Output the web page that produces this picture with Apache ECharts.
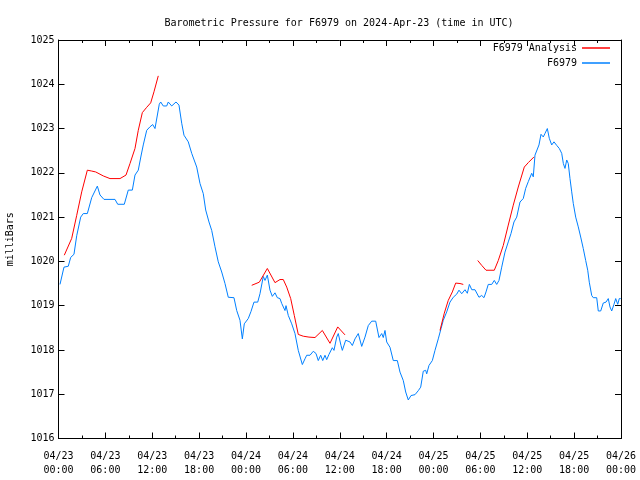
<!DOCTYPE html>
<html><head><meta charset="utf-8">
<script src="https://cdn.jsdelivr.net/npm/echarts@6.0.0/dist/echarts.min.js"></script>
<style>html,body{margin:0;padding:0;background:#fff}#c{width:640px;height:480px}</style>
</head><body><div id="c"></div>
<script>
const tickDates = ['04/23','04/23','04/23','04/23','04/24','04/24','04/24','04/24','04/25','04/25','04/25','04/25','04/26'];
const tickTimes = ['00:00','06:00','12:00','18:00','00:00','06:00','12:00','18:00','00:00','06:00','12:00','18:00','00:00'];
const yTicks = [1016,1017,1018,1019,1020,1021,1022,1023,1024,1025];

// F6979 observations: hours since 2024-04-23 00:00 UTC
const obsHours = [0.19,0.70,1.25,1.56,1.98,2.33,2.84,3.17,3.69,4.25,4.97,5.31,5.82,7.23,7.58,8.42,8.93,9.45,9.79,10.21,10.56,10.85,11.29,11.71,12.06,12.35,12.90,13.08,13.41,13.85,14.05,14.49,15.04,15.42,15.77,16.06,16.61,17.05,17.69,18.11,18.53,18.84,18.97,19.26,19.61,20.03,20.45,20.89,21.31,21.73,22.46,22.81,23.23,23.53,23.78,24.29,24.64,25.02,25.50,25.79,26.21,26.43,26.73,27.07,27.37,27.71,28.01,28.35,28.57,28.99,29.12,29.41,29.85,30.27,30.69,31.21,31.55,31.77,32.19,32.61,32.96,33.25,33.56,33.82,34.11,34.33,34.62,35.05,35.26,35.61,35.81,36.16,36.33,36.76,37.31,37.61,37.95,38.37,38.81,39.23,39.65,40.09,40.60,41.02,41.37,41.57,41.79,42.01,42.43,42.85,43.37,43.71,44.13,44.44,44.77,45.12,45.63,46.05,46.36,46.69,47.00,47.13,47.42,47.85,48.19,48.61,48.96,49.25,49.69,50.11,50.53,50.97,51.26,51.61,52.03,52.33,52.59,52.90,53.31,53.82,54.17,54.46,54.72,55.01,55.45,55.78,56.09,56.38,56.73,57.15,57.57,57.92,58.30,58.65,59.07,59.49,59.80,60.13,60.57,60.77,60.99,61.21,61.50,61.76,62.05,62.27,62.57,62.82,63.13,63.42,63.77,64.10,64.41,64.62,64.83,65.05,65.25,65.47,65.69,65.89,66.20,66.53,66.84,67.17,67.48,67.74,67.94,68.25,68.45,68.89,69.09,69.40,69.73,70.08,70.37,70.59,70.81,71.10,71.32,71.58,71.78,71.96];
const obsValues = [1019.48,1019.87,1019.89,1020.09,1020.16,1020.58,1021.00,1021.08,1021.08,1021.44,1021.70,1021.50,1021.40,1021.40,1021.29,1021.29,1021.61,1021.61,1021.95,1022.06,1022.38,1022.63,1022.96,1023.04,1023.09,1023.00,1023.55,1023.60,1023.51,1023.51,1023.60,1023.51,1023.60,1023.53,1023.12,1022.85,1022.70,1022.44,1022.13,1021.76,1021.53,1021.16,1021.19,1020.89,1020.70,1020.33,1019.99,1019.76,1019.50,1019.19,1019.18,1018.89,1018.67,1018.25,1018.59,1018.71,1018.87,1019.08,1019.08,1019.27,1019.66,1019.57,1019.69,1019.35,1019.21,1019.29,1019.18,1019.16,1019.05,1018.89,1019.00,1018.78,1018.59,1018.37,1017.99,1017.67,1017.80,1017.88,1017.88,1017.97,1017.92,1017.76,1017.88,1017.76,1017.88,1017.78,1017.90,1018.05,1017.99,1018.29,1018.37,1018.10,1017.99,1018.22,1018.18,1018.10,1018.25,1018.37,1018.08,1018.29,1018.55,1018.65,1018.65,1018.28,1018.37,1018.28,1018.44,1018.18,1018.06,1017.76,1017.76,1017.50,1017.31,1017.05,1016.87,1016.97,1016.99,1017.08,1017.16,1017.52,1017.54,1017.46,1017.65,1017.76,1017.99,1018.25,1018.48,1018.67,1018.86,1019.08,1019.19,1019.26,1019.35,1019.27,1019.36,1019.28,1019.48,1019.36,1019.36,1019.19,1019.23,1019.18,1019.31,1019.48,1019.48,1019.57,1019.48,1019.57,1019.87,1020.21,1020.44,1020.63,1020.89,1021.00,1021.34,1021.42,1021.65,1021.80,1021.99,1021.91,1022.40,1022.44,1022.63,1022.87,1022.81,1022.89,1023.00,1022.78,1022.63,1022.70,1022.62,1022.55,1022.44,1022.21,1022.10,1022.29,1022.21,1021.87,1021.57,1021.31,1021.00,1020.78,1020.55,1020.29,1020.02,1019.80,1019.53,1019.23,1019.18,1019.18,1018.88,1018.88,1019.06,1019.08,1019.16,1018.97,1018.88,1019.03,1019.16,1019.03,1019.16,1019.16];

// F6979 Analysis: four separate segments
const anaHours1 = [0.74,1.69,2.33,2.97,3.69,4.25,4.76,5.73,6.59,7.87,8.64,9.15,9.79,10.21,10.73,11.29,11.80,12.22,12.77];
const anaValues1 = [1020.14,1020.52,1021.04,1021.57,1022.06,1022.04,1022.02,1021.93,1021.87,1021.87,1021.95,1022.21,1022.55,1022.96,1023.36,1023.48,1023.58,1023.83,1024.19];
const anaHours2 = [24.73,25.70,26.73,27.71,28.35,28.77,29.21,29.72,30.18,30.69,31.33,32.06,32.83,33.77,34.75,35.74,36.67];
const anaValues2 = [1019.46,1019.53,1019.84,1019.52,1019.59,1019.59,1019.42,1019.16,1018.78,1018.35,1018.31,1018.29,1018.28,1018.44,1018.15,1018.52,1018.34];
const anaHours3 = [48.83,49.38,49.89,50.41,50.84,51.39,51.81];
const anaValues3 = [1018.44,1018.83,1019.12,1019.31,1019.51,1019.50,1019.48];
const anaHours4 = [53.66,54.17,54.72,55.78,56.29,56.93,57.57,58.21,58.85,59.62,60.13,60.86];
const anaValues4 = [1020.02,1019.91,1019.80,1019.80,1020.02,1020.36,1020.82,1021.27,1021.68,1022.13,1022.23,1022.36];

const pair = (hs, vs) => hs.map((h, i) => [h, vs[i]]);
const obsData = pair(obsHours, obsValues);
const anaSegments = [[anaHours1, anaValues1],[anaHours2, anaValues2],[anaHours3, anaValues3],[anaHours4, anaValues4]];
const anaData = [];
anaSegments.forEach((s, k) => {
  if (k > 0) anaData.push([s[0][0] - 0.01, null]);
  pair(s[0], s[1]).forEach(p => anaData.push(p));
});

const FONT = 'DejaVu Sans Mono';
const black = '#000';
function xAxisDef(pos, labels) {
  return {
    type: 'value', min: 0, max: 72, interval: 6, position: pos,
    axisLine: { show: true, onZero: false, lineStyle: { color: black, width: 1 } },
    axisTick: { show: true, inside: true, length: 6, lineStyle: { color: black } },
    minorTick: { show: true, splitNumber: 2, length: 3, lineStyle: { color: black } },
    splitLine: { show: false },
    axisLabel: {
      show: labels, margin: 11, fontFamily: FONT, fontSize: 10, color: black, lineHeight: 14,
      formatter: v => { const i = Math.round(v / 6); return tickDates[i] + '\n' + tickTimes[i]; }
    }
  };
}
function yAxisDef(pos, labels) {
  return {
    type: 'value', min: yTicks[0], max: yTicks[yTicks.length - 1], interval: 1, position: pos,
    axisLine: { show: true, onZero: false, lineStyle: { color: black, width: 1 } },
    axisTick: { show: true, inside: true, length: 6, lineStyle: { color: black } },
    splitLine: { show: false },
    axisLabel: { show: labels, margin: 4, fontFamily: FONT, fontSize: 10, color: black,
      formatter: v => String(v) },
    name: labels ? 'milliBars' : '', nameLocation: 'middle', nameRotate: 90, nameGap: 43,
    nameTextStyle: { fontFamily: FONT, fontSize: 10, color: black }
  };
}

const chart = echarts.init(document.getElementById('c'), null, { renderer: 'canvas' });
chart.setOption({
  animation: false,
  backgroundColor: '#fff',
  title: {
    text: 'Barometric Pressure for F6979 on 2024-Apr-23 (time in UTC)',
    left: 334, top: 13, textAlign: 'center',
    textStyle: { fontFamily: FONT, fontSize: 10, fontWeight: 'normal', color: black }
  },
  legend: {
    data: ['F6979 Analysis', 'F6979'],
    orient: 'vertical', right: 25, top: 38, align: 'right',
    itemWidth: 28, itemHeight: 1.5, itemGap: 5, icon: 'rect',
    textStyle: { fontFamily: FONT, fontSize: 10, color: black }
  },
  grid: { left: 58.5, right: 19, top: 40, bottom: 41.5, containLabel: false, outerBoundsMode: 'none' },
  xAxis: [xAxisDef('bottom', true), xAxisDef('top', false)],
  yAxis: [yAxisDef('left', true), yAxisDef('right', false)],
  series: [
    { name: 'F6979', type: 'line', data: obsData, showSymbol: false, symbol: 'none',
      lineStyle: { color: '#0080ff', width: 1 }, itemStyle: { color: '#0080ff' }, connectNulls: false },
    { name: 'F6979 Analysis', type: 'line', data: anaData, showSymbol: false, symbol: 'none',
      lineStyle: { color: '#ff0000', width: 1 }, itemStyle: { color: '#ff0000' }, connectNulls: false }
  ]
});
</script></body></html>
